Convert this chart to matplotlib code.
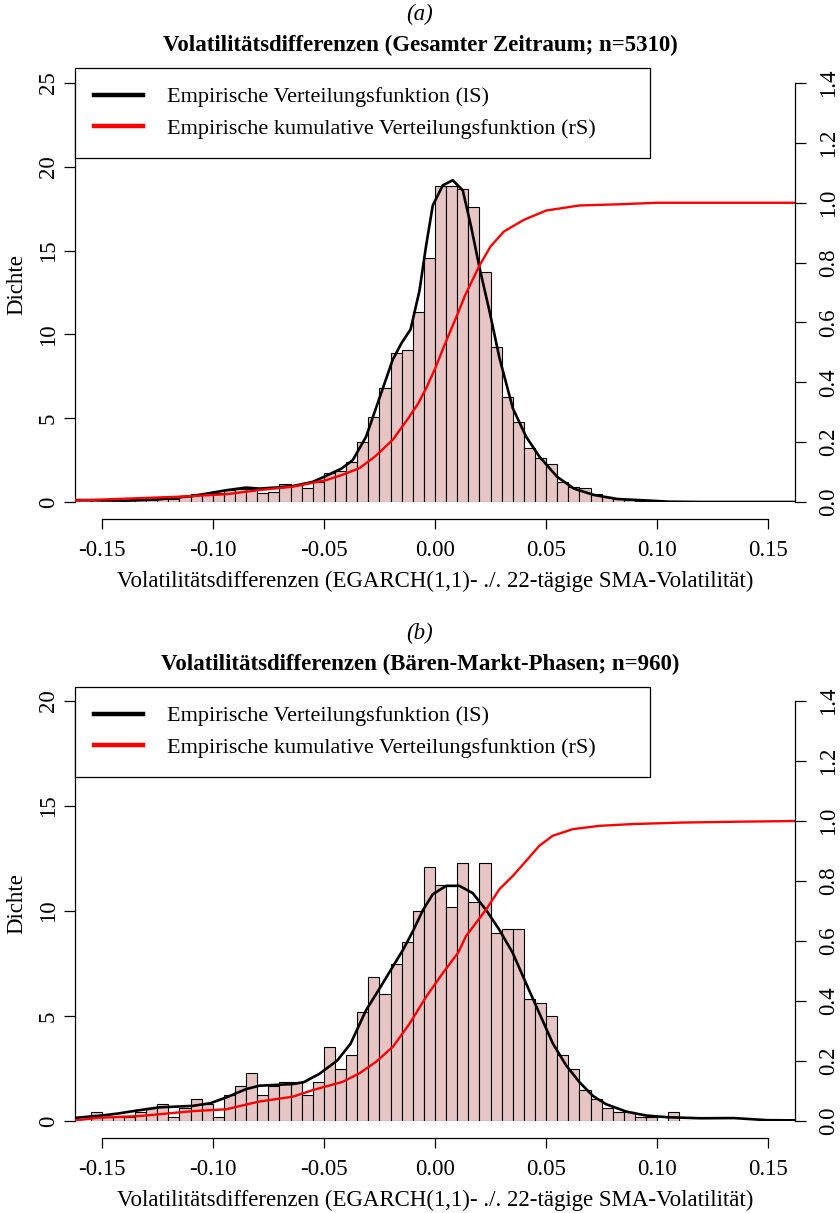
import numpy as np
import matplotlib
matplotlib.use('Agg')
import matplotlib.pyplot as plt
from matplotlib.lines import Line2D

plt.rcParams['font.family'] = ['Liberation Serif', 'DejaVu Serif']

#bin width of both histograms
bw = 0.005

# (a) whole period, n=5310 -- histogram densities, bins from -0.165
a_start = -0.165
a_dens = [0.1, 0.1, 0.1, 0.1, 0.1, 0.1, 0.1, 0.15, 0.2, 0.2,
          0.35, 0.45, 0.5, 0.55, 0.72, 0.8, 0.8, 0.55, 0.6, 1.1,
          1.0, 0.85, 1.2, 1.71, 1.85, 2.41, 3.60, 5.09, 6.78, 8.91,
          9.07, 11.36, 14.54, 18.87, 18.87, 18.68, 17.58, 13.70, 9.27, 6.29,
          4.79, 3.24, 2.61, 2.27, 1.21, 0.91, 0.82, 0.48, 0.28, 0.18,
          0.12, 0.06, 0.04]
# kernel density (black)
a_kde_x = [-0.162, -0.139, -0.125, -0.109, -0.094, -0.085, -0.079, -0.072, -0.064, -0.055,
           -0.049, -0.042, -0.037, -0.031, -0.025, -0.019, -0.015, -0.011, -0.007, -0.004,
           -0.001, 0.0035, 0.008, 0.0125, 0.0163, 0.02, 0.0245, 0.029, 0.035, 0.041,
           0.047, 0.055, 0.0625, 0.0715, 0.082, 0.097, 0.105, 0.12, 0.162]
a_kde_y = [0.12, 0.08, 0.15, 0.36, 0.7, 0.86, 0.8, 0.86, 0.95, 1.2,
           1.56, 2.0, 2.5, 3.9, 6.2, 8.5, 9.5, 10.3, 12.6, 15.3,
           17.7, 18.9, 19.2, 18.6, 16.4, 14.0, 11.4, 8.6, 5.6, 3.9,
           2.7, 1.5, 0.8, 0.42, 0.18, 0.08, 0.02, 0.0, 0.0]
# empirical cdf (red)
a_cdf_x = [-0.162, -0.114, -0.094, -0.079, -0.064, -0.049, -0.042, -0.034, -0.027, -0.019,
           -0.012, -0.0075, -0.004, 0.0, 0.0035, 0.006, 0.01, 0.0135, 0.02, 0.025,
           0.031, 0.04, 0.05, 0.065, 0.083, 0.1, 0.162]
a_cdf_y = [0.005, 0.018, 0.026, 0.04, 0.051, 0.073, 0.09, 0.113, 0.152, 0.208,
           0.28, 0.33, 0.38, 0.445, 0.51, 0.555, 0.625, 0.69, 0.79, 0.854,
           0.904, 0.943, 0.974, 0.991, 0.995, 1.0, 1.0]

# (b) bear market phases, n=960 -- histogram counts, bins from -0.165
b_n = 960
b_start = -0.165
b_counts = [0, 0, 2, 1, 1, 1, 2, 3, 4, 1,
            3, 5, 4, 1, 6, 8, 11, 6, 8, 9,
            9, 6, 9, 17, 12, 15, 25, 33, 29, 36,
            41, 48, 58, 54, 49, 59, 50, 59, 43, 44,
            44, 28, 27, 24, 15, 12, 7, 5, 3, 2,
            2, 1, 1, 0, 2, 0]
b_kde_x = [-0.162, -0.151, -0.143, -0.134, -0.124, -0.109, -0.101, -0.094, -0.085, -0.079,
           -0.064, -0.059, -0.052, -0.044, -0.038, -0.031, -0.025, -0.019, -0.0144, -0.0099,
           -0.0054, -0.001, 0.005, 0.011, 0.017, 0.023, 0.029, 0.035, 0.041, 0.047,
           0.053, 0.059, 0.065, 0.071, 0.077, 0.086, 0.095, 0.1045, 0.1195, 0.1345,
           0.1495, 0.162]
b_kde_y = [0.15, 0.25, 0.35, 0.5, 0.65, 0.72, 0.85, 1.12, 1.52, 1.68,
           1.76, 1.85, 2.25, 2.88, 3.68, 5.28, 6.3, 7.35, 8.15, 9.05,
           10.05, 10.8, 11.2, 11.2, 10.85, 10.05, 9.1, 8.0, 6.55, 5.12,
           3.7, 2.65, 1.85, 1.2, 0.8, 0.45, 0.26, 0.18, 0.13, 0.14,
           0.04, 0.03]
b_cdf_x = [-0.162, -0.151, -0.132, -0.109, -0.094, -0.079, -0.064, -0.055, -0.0414, -0.034,
           -0.0264, -0.0189, -0.0114, -0.0039, 0.0036, 0.0104, 0.014, 0.023, 0.029, 0.035,
           0.041, 0.047, 0.053, 0.062, 0.074, 0.089, 0.1115, 0.138, 0.162]
b_cdf_y = [0.002, 0.011, 0.017, 0.033, 0.039, 0.065, 0.081, 0.103, 0.131, 0.159,
           0.198, 0.248, 0.325, 0.415, 0.494, 0.561, 0.617, 0.705, 0.773, 0.817,
           0.867, 0.918, 0.951, 0.973, 0.984, 0.990, 0.995, 0.998, 1.0]

xticks = [-0.15, -0.10, -0.05, 0.00, 0.05, 0.10, 0.15]
xlab = 'Volatilitätsdifferenzen (EGARCH(1,1)- ./. 22-tägige SMA-Volatilität)'
leg_labels = ['Empirische Verteilungsfunktion (lS)',
              'Empirische kumulative Verteilungsfunktion (rS)']

W, H = 840, 1213
fs = 16.5
fig = plt.figure(figsize=(W/100, H/100), dpi=100)


def panel(top_px, start, dens, kx, ky, cx, cy, ytop, yticks, tag, title):
    ax = fig.add_axes([75/W, 1-(top_px+434)/H, 720/W, 434/H])
    left = start + bw*np.arange(len(dens))
    ax.bar(left, dens, width=bw, align='edge', color='#E8C5C5',
           edgecolor='black', linewidth=0.8)
    ax.plot(kx, ky, color='black', lw=1.9, solid_capstyle='butt')
    ax.set_xlim(-0.162, 0.162)
    ax.set_ylim(0, ytop)
    ax.spines['top'].set_visible(False)
    ax.spines['right'].set_visible(False)
    ax.spines['left'].set_bounds(0, yticks[-1])
    ax.spines['bottom'].set_position(('outward', 12.2))
    ax.spines['bottom'].set_bounds(-0.15, 0.15)
    ax.set_xticks(xticks)
    ax.set_xticklabels(['%.2f' % t for t in xticks])
    ax.set_yticks(yticks)
    ax.set_yticklabels([str(t) for t in yticks], rotation=90, va='center')
    ax.tick_params(axis='x', length=7.5, width=0.9, labelsize=fs, pad=8)
    ax.tick_params(axis='y', length=8, width=0.9, labelsize=fs, pad=3.5)
    for s in ax.spines.values():
        s.set_linewidth(0.9)
    ax.text(-0.0806, 0.5, 'Dichte', rotation=90, ha='center', va='center',
            fontsize=fs, transform=ax.transAxes)
    ax.text(0.5, -0.184, xlab, ha='center', va='center', fontsize=fs,
            transform=ax.transAxes)

    ax2 = ax.twinx()
    ax2.plot(cx, cy, color='red', lw=1.7)
    ax2.set_ylim(0, 1.4*ytop/yticks[-1])
    for k in ['top', 'left', 'bottom']:
        ax2.spines[k].set_visible(False)
    ax2.spines['right'].set_bounds(0, 1.4)
    ax2.spines['right'].set_linewidth(0.9)
    rt = [0.0, 0.2, 0.4, 0.6, 0.8, 1.0, 1.2, 1.4]
    ax2.set_yticks(rt)
    ax2.set_yticklabels(['%.1f' % t for t in rt], rotation=90, va='center')
    ax2.tick_params(axis='y', length=8, width=0.9, labelsize=fs, pad=8.5)

    handles = [Line2D([], [], color='black', lw=3.2),
               Line2D([], [], color='red', lw=3.2)]
    leg = ax2.legend(handles, leg_labels, loc='upper left',
                     bbox_to_anchor=(0, 1, 575/720, 0), mode='expand',
                     borderaxespad=0, fancybox=False, framealpha=1,
                     edgecolor='black', fontsize=fs-0.5, handlelength=2.2,
                     handletextpad=1.1, borderpad=0.85, labelspacing=0.5)
    leg.get_frame().set_linewidth(0.9)

    fig.text(0.5, 1-(top_px-23)/H, title, ha='center', va='center',
             fontsize=fs, fontweight='bold')
    fig.text(0.5, 1-(top_px-54)/H, tag, ha='center', va='center',
             fontsize=fs, style='italic')


panel(68, a_start, a_dens, a_kde_x, a_kde_y, a_cdf_x, a_cdf_y, 25.9,
      [0, 5, 10, 15, 20, 25], '(a)',
      'Volatilitätsdifferenzen (Gesamter Zeitraum; n=5310)')

b_dens = np.array(b_counts)/(b_n*bw)
panel(687, b_start, b_dens, b_kde_x, b_kde_y, b_cdf_x, b_cdf_y, 20.67,
      [0, 5, 10, 15, 20], '(b)',
      'Volatilitätsdifferenzen (Bären-Markt-Phasen; n=960)')

plt.savefig('out.png', dpi=100)
